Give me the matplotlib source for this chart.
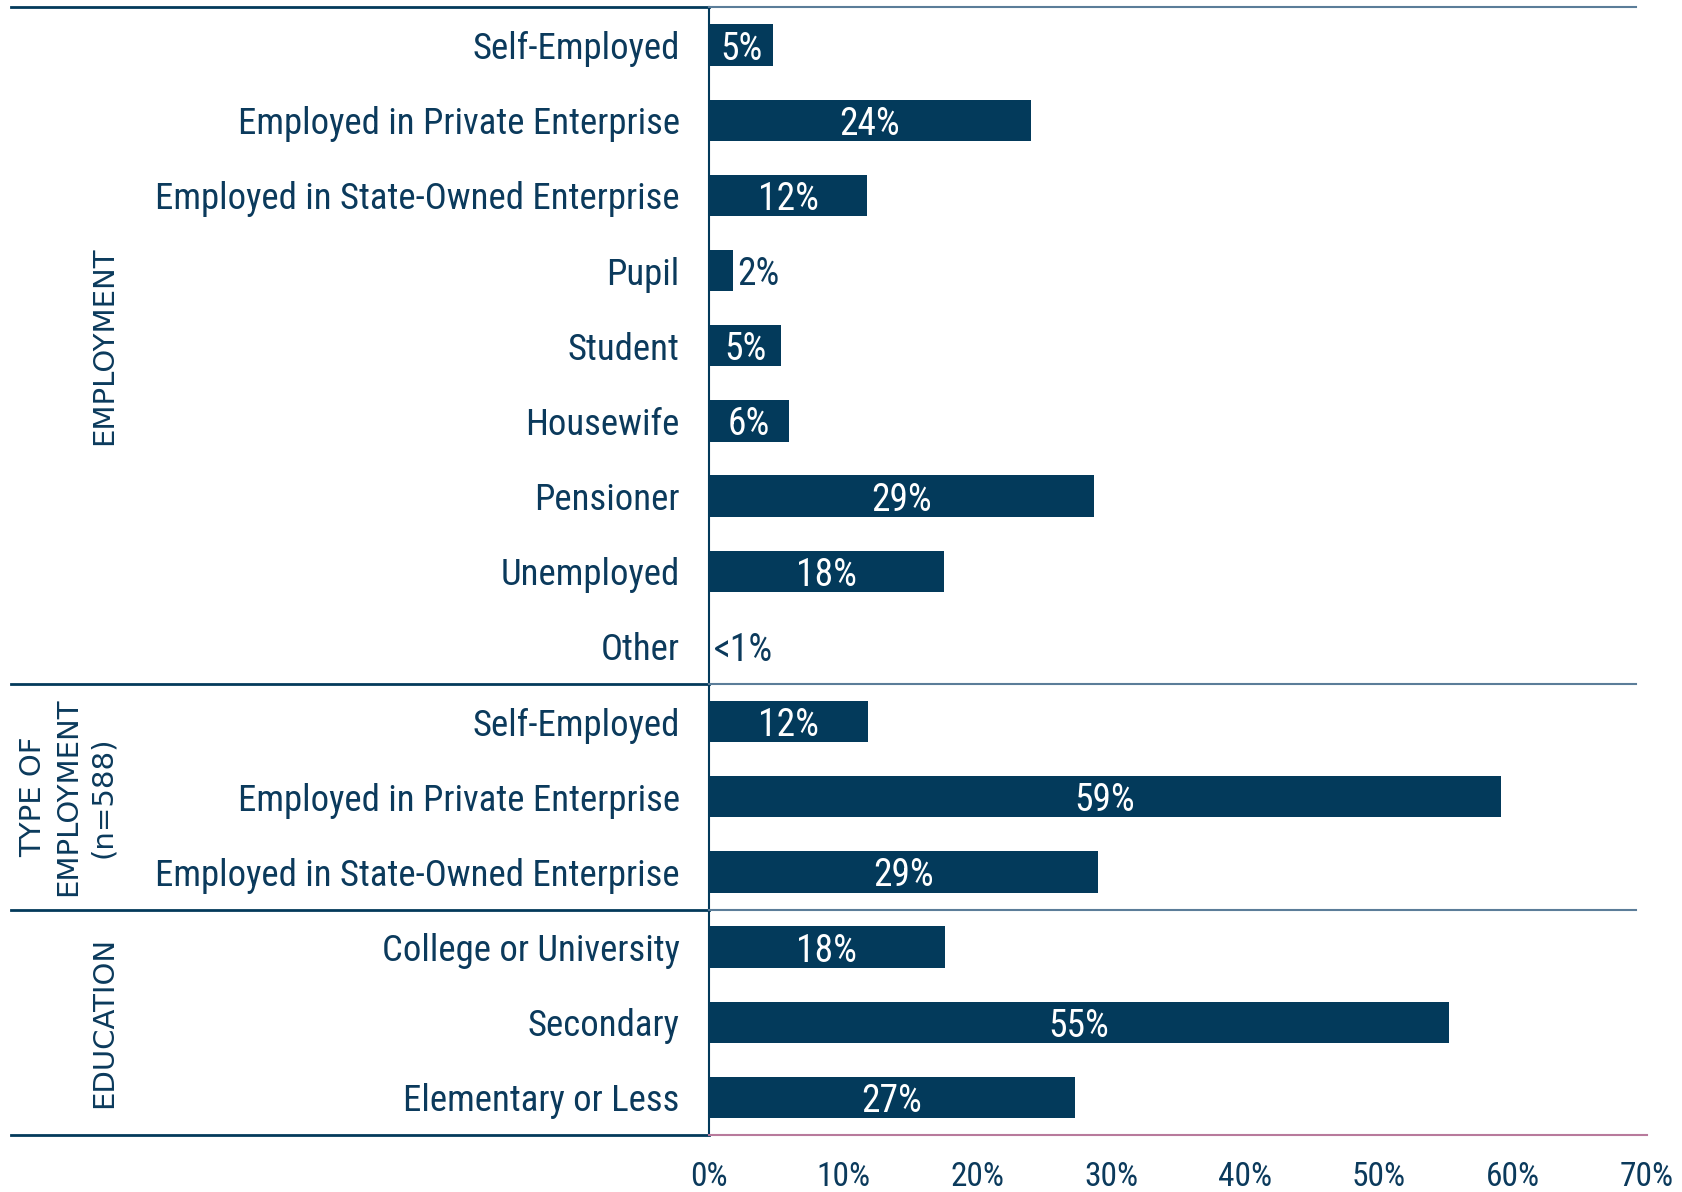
import matplotlib
matplotlib.use("Agg")
import matplotlib.pyplot as plt
from matplotlib import font_manager
from matplotlib.transforms import blended_transform_factory

# ---------------- data ----------------
categories = [
    "Self-Employed", "Employed in Private Enterprise", "Employed in State-Owned Enterprise",
    "Pupil", "Student", "Housewife", "Pensioner", "Unemployed", "Other",
    "Self-Employed", "Employed in Private Enterprise", "Employed in State-Owned Enterprise",
    "College or University", "Secondary", "Elementary or Less",
]
values = [4.8, 24.0, 11.8, 1.8, 5.4, 6.0, 28.7, 17.5, 0.0,
          11.9, 59.1, 29.0,
          17.6, 55.2, 27.3]
value_labels = ["5%", "24%", "12%", "2%", "5%", "6%", "29%", "18%", "<1%",
                "12%", "59%", "29%",
                "18%", "55%", "27%"]
groups = ["EMPLOYMENT", "TYPE OF\nEMPLOYMENT\n(n=588)", "EDUCATION"]
group_sizes = [9, 3, 3]
xticks = [0, 10, 20, 30, 40, 50, 60, 70]
xtick_labels = ["0%", "10%", "20%", "30%", "40%", "50%", "60%", "70%"]

# ---------------- style ----------------
names = {f.name for f in font_manager.fontManager.ttflist}
main_font = "DejaVu Sans"
for cand in ["Liberation Sans Narrow", "Roboto Condensed", "Open Sans Condensed",
             "Noto Sans Condensed", "DejaVu Sans Condensed"]:
    if cand in names:
        main_font = cand
        break
plt.rcParams["font.family"] = [main_font, "DejaVu Sans"]

NAVY = "#033a5b"
TEXT = "#0b3a5c"
LIGHT = "#5b7d99"
PINK = "#b87a9c"
FS = 26.5

W, H = 1682, 1192
fig = plt.figure(figsize=(W / 100, H / 100), dpi=100)
ax_left, ax_right = 709 / W, 1647 / W
ax_bottom, ax_top = 1 - 1135 / H, 1 - 7.5 / H
ax = fig.add_axes([ax_left, ax_bottom, ax_right - ax_left, ax_top - ax_bottom])

n = len(categories)
ypos = list(range(n))
ax.barh(ypos, values, height=0.55, color=NAVY, zorder=3)
ax.set_ylim(n - 0.5, -0.5)
ax.set_xlim(0, 70)

for y, v, lab in zip(ypos, values, value_labels):
    if v >= 4:
        ax.text(v / 2, y, lab, ha="center", va="center_baseline", color="white",
                fontsize=FS + 0.5, zorder=4)
    else:
        ax.text(v + 0.3, y, lab, ha="left", va="center_baseline", color=TEXT,
                fontsize=FS + 0.5, zorder=4)

ax.set_yticks(ypos)
ax.set_yticklabels(categories, fontsize=FS, color=TEXT)
ax.tick_params(axis="y", length=0, pad=21)
ax.set_xticks(xticks)
ax.set_xticklabels(xtick_labels, fontsize=24, color=TEXT)
ax.tick_params(axis="x", length=0, pad=19)

for s in ["top", "right", "bottom"]:
    ax.spines[s].set_visible(False)
ax.spines["left"].set_color(NAVY)
ax.spines["left"].set_linewidth(1.5)

# horizontal separators
trans = blended_transform_factory(fig.transFigure, ax.transData)
left_x = 11 / W
right_end = 1636 / W
bounds = [-0.5]
acc = 0
for g in group_sizes:
    acc += g
    bounds.append(acc - 0.5)
for i, b in enumerate(bounds):
    last = (i == len(bounds) - 1)
    ax.plot([left_x, ax_left], [b, b], transform=trans, color=NAVY, lw=2,
            clip_on=False, zorder=5)
    ax.plot([ax_left, ax_right if last else right_end], [b, b], transform=trans,
            color=PINK if last else LIGHT, lw=1.5, clip_on=False, zorder=5)

# group labels
start = 0
gx = [104 / W, 68 / W, 104 / W]
for g, size, x in zip(groups, group_sizes, gx):
    center = start + (size - 1) / 2
    ax.text(x, center, g, transform=trans, rotation=90, ha="center", va="center",
            fontsize=21, color=TEXT, family="DejaVu Sans",
            linespacing=1.3, clip_on=False)
    start += size

fig.savefig("out.png", dpi=100)
